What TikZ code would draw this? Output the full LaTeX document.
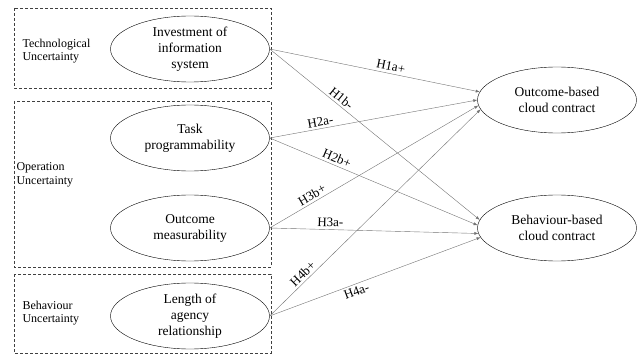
\documentclass[tikz,border=0pt]{standalone}
\usepackage{fontspec}
\setmainfont{Liberation Serif}
\usetikzlibrary{shapes.geometric,arrows.meta}
\begin{document}
\begin{tikzpicture}[x=1pt,y=1pt,
    construct/.style={ellipse,draw,thin,inner sep=0pt,minimum width=159pt,minimum height=66pt,align=center,font=\fontsize{13.5}{16}\selectfont},
    group/.style={draw=black!75,densely dashed,thin},
    grouplabel/.style={anchor=west,align=left,font=\fontsize{12}{13.5}\selectfont},
    hyp/.style={draw=black!55,thin,-{Latex[length=4pt,width=3pt]}},
    hlabel/.style={sloped,above,inner sep=2.5pt,font=\fontsize{13}{15}\selectfont}]
    \useasboundingbox (0,0) rectangle (640,-358);
    % uncertainty groups
    \draw[group] (14,-8) rectangle (271,-88);
    \draw[group] (14,-101) rectangle (271,-267);
    \draw[group] (14,-274) rectangle (271,-353);
    \node[grouplabel] (tu) at (19,-51) {Technological\\Uncertainty};
    \node[grouplabel] (ou) at (13,-175) {Operation\\Uncertainty};
    \node[grouplabel] (bu) at (19,-313) {Behaviour\\Uncertainty};
    % constructs
    \node[construct] (inv) at (190,-49) {Investment of\\information\\system};
    \node[construct] (task) at (190,-138) {Task\\programmability};
    \node[construct] (meas) at (190,-228) {Outcome\\measurability};
    \node[construct] (len) at (190,-316) {Length of\\agency\\relationship};
    \node[construct] (obc) at (557,-100) {Outcome-based\\cloud contract};
    \node[construct] (bbc) at (557,-228) {Behaviour-based\\cloud contract};
    % hypotheses
    \draw[hyp] (inv.east) -- node[hlabel,pos=0.57] {H1a+} (obc.174);
    \draw[hyp] (inv.east) -- node[hlabel,pos=0.32] {H1b-} (bbc.174);
    \draw[hyp] (task.east) -- node[hlabel,pos=0.25] {H2a-} (obc.180);
    \draw[hyp] (task.east) -- node[hlabel,pos=0.31] {H2b+} (bbc.178);
    \draw[hyp] (meas.east) -- node[hlabel,pos=0.22] {H3b+} (obc.184);
    \draw[hyp] (meas.east) -- node[hlabel,pos=0.29] {H3a-} (bbc.184);
    \draw[hyp] (len.east) -- node[hlabel,pos=0.18] {H4b+} (obc.187);
    \draw[hyp] (len.east) -- node[hlabel,pos=0.40,below] {H4a-} (bbc.187);
\end{tikzpicture}
\end{document}
